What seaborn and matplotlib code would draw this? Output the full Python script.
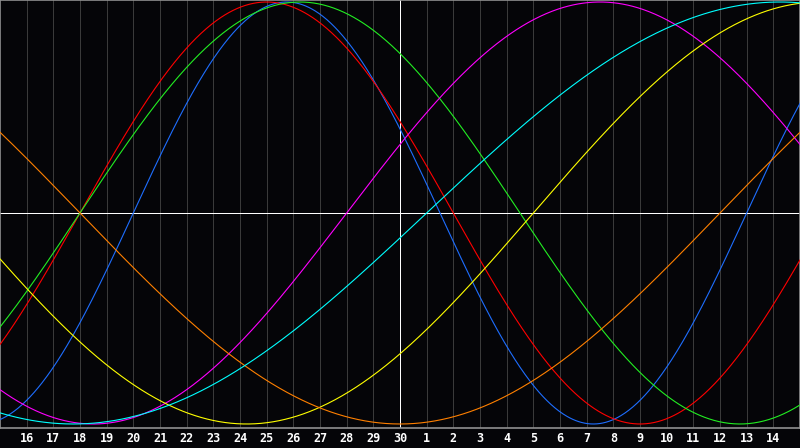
import numpy as np
import pandas as pd
import matplotlib
matplotlib.use("Agg")
import matplotlib.pyplot as plt
import seaborn as sns

# ---- data (biorhythm) ----
days_alive_at_start = 31413          # days since birth at the left edge (the 15th)
cycle_names = ["Physical", "Emotional", "Intellectual", "Intuitive",
               "Aesthetic", "Awareness", "Spiritual"]
cycle_periods = [23, 28, 33, 38, 43, 48, 53]
cycle_colors = ["#1e6eff", "#ff0000", "#22ee22", "#ff00ff",
                "#ffff00", "#ff8000", "#00ffff"]
day_labels = ["16", "17", "18", "19", "20", "21", "22", "23", "24", "25",
              "26", "27", "28", "29", "30", "1", "2", "3", "4", "5", "6",
              "7", "8", "9", "10", "11", "12", "13", "14"]
today_index = 15  # the 30th

n_days = len(day_labels) + 1
t = np.linspace(0, n_days, 801)
rows = []
for name, period in zip(cycle_names, cycle_periods):
    vals = np.sin(2 * np.pi * (days_alive_at_start + t) / period)
    rows.append(pd.DataFrame({"day": t, "value": vals, "cycle": name}))
df = pd.concat(rows, ignore_index=True)

sns.set_style("dark")
plt.rcParams["font.family"] = ["DejaVu Sans Mono", "DejaVu Sans"]

fig = plt.figure(figsize=(8, 4.48), dpi=100, facecolor="#050508")
ax = fig.add_axes([0, 20 / 448, 1, 428 / 448])
ax.set_facecolor("#050508")

# grid
for i in range(1, n_days):
    if i != today_index:
        ax.axvline(i, color="#3a3a3a", lw=0.5, zorder=1, antialiased=False)
ax.axvline(today_index, color="#ffffff", lw=0.5, zorder=1, antialiased=False)
ax.axhline(0, color="#ffffff", lw=0.5, zorder=1, antialiased=False)

sns.lineplot(data=df, x="day", y="value", hue="cycle",
             palette=dict(zip(cycle_names, cycle_colors)),
             hue_order=cycle_names, linewidth=0.8, legend=False,
             ax=ax, zorder=3, estimator=None, sort=False)

ax.set_xlim(0, n_days)
ax.set_ylim(-1.019, 1.0095)
ax.set_xticks(range(1, n_days))
ax.set_xticklabels(day_labels)
ax.set_yticks([])
ax.set_xlabel("")
ax.set_ylabel("")
ax.tick_params(axis="x", length=0, pad=3, colors="#ffffff", labelsize=8.5)
for lab in ax.get_xticklabels():
    lab.set_fontweight("bold")
for side in ["top", "left", "right", "bottom"]:
    ax.spines[side].set_visible(True)
    ax.spines[side].set_color("#909090")
    ax.spines[side].set_linewidth(1.2)
ax.grid(False)

fig.savefig("out.png", dpi=100, facecolor="#050508")
